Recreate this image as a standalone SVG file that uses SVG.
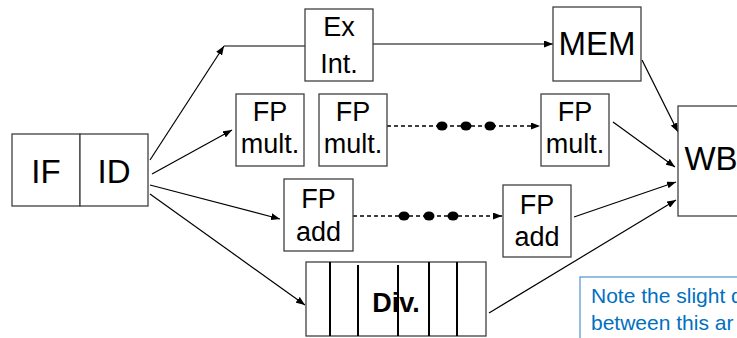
<svg xmlns="http://www.w3.org/2000/svg" width="737" height="338" viewBox="0 0 737 338">
  <style>
    .box { fill: #ffffff; stroke: #404040; stroke-width: 1.3; }
    .lbl { font-family: "Liberation Sans", Arial, sans-serif; fill: #000000; text-anchor: middle; }
    .big { font-size: 33px; }
    .mid { font-size: 27px; }
    .wire { stroke: #000000; stroke-width: 1.2; fill: none; }
    .dash { stroke: #000000; stroke-width: 1.3; fill: none; stroke-dasharray: 4 3; }
    .dot { fill: #000000; }
    .sep { stroke: #000000; stroke-width: 2; }
    .note { font-family: "Liberation Sans", Arial, sans-serif; font-size: 21px; fill: #0070C0; }
  </style>
  <defs>
    <marker id="arrow" markerUnits="userSpaceOnUse" markerWidth="9" markerHeight="7" refX="9" refY="3.5" orient="auto">
      <path d="M0,0 L9,3.5 L0,7 z" fill="#000000"/>
    </marker>
  </defs>

  <rect width="737" height="338" fill="#ffffff"/>

  <g id="connectors">
    <line class="wire" x1="150" y1="160" x2="224" y2="46" marker-end="url(#arrow)"/>
    <line class="wire" x1="305" y1="46" x2="224" y2="46"/>
    <line class="wire" x1="373" y1="44" x2="553" y2="44" marker-end="url(#arrow)"/>
    <line class="wire" x1="152" y1="174" x2="232" y2="130" marker-end="url(#arrow)"/>
    <line class="wire" x1="150" y1="185" x2="280" y2="219" marker-end="url(#arrow)"/>
    <line class="wire" x1="150" y1="194" x2="305" y2="305" marker-end="url(#arrow)"/>
    <line class="wire" x1="642" y1="60" x2="678" y2="132" marker-end="url(#arrow)"/>
    <line class="wire" x1="613" y1="122" x2="675" y2="167" marker-end="url(#arrow)"/>
    <line class="wire" x1="574" y1="217" x2="676" y2="182" marker-end="url(#arrow)"/>
    <line class="wire" x1="489" y1="313" x2="676" y2="200" marker-end="url(#arrow)"/>
    <!-- elided multiply stages -->
    <line class="dash" x1="387" y1="126" x2="540" y2="126" marker-end="url(#arrow)"/>
    <ellipse class="dot" cx="442" cy="126" rx="5.5" ry="4.5"/>
    <ellipse class="dot" cx="466" cy="126" rx="5.5" ry="4.5"/>
    <ellipse class="dot" cx="490" cy="126" rx="5.5" ry="4.5"/>
    <!-- elided add stages -->
    <line class="dash" x1="353" y1="216" x2="502" y2="216" marker-end="url(#arrow)"/>
    <ellipse class="dot" cx="404" cy="216" rx="5.5" ry="4.5"/>
    <ellipse class="dot" cx="429" cy="216" rx="5.5" ry="4.5"/>
    <ellipse class="dot" cx="453" cy="216" rx="5.5" ry="4.5"/>
  </g>

  <g id="if">
    <rect class="box" x="12" y="134" width="68" height="72"/>
    <text class="lbl big" x="46" y="183">IF</text>
  </g>
  <g id="id">
    <rect class="box" x="80" y="134" width="68" height="72"/>
    <text class="lbl big" x="114" y="183">ID</text>
  </g>
  <g id="ex-int">
    <rect class="box" x="305" y="9" width="68" height="72"/>
    <text class="lbl mid" x="339" y="36">Ex</text>
    <text class="lbl mid" x="339" y="73">Int.</text>
  </g>
  <g id="mem">
    <rect class="box" x="553" y="7" width="88" height="74"/>
    <text class="lbl big" x="597" y="55">MEM</text>
  </g>
  <g id="fp-mult-1">
    <rect class="box" x="236" y="94" width="68" height="72"/>
    <text class="lbl mid" x="270" y="121">FP</text>
    <text class="lbl mid" x="270" y="153">mult.</text>
  </g>
  <g id="fp-mult-2">
    <rect class="box" x="319" y="94" width="68" height="72"/>
    <text class="lbl mid" x="353" y="121">FP</text>
    <text class="lbl mid" x="353" y="153">mult.</text>
  </g>
  <g id="fp-mult-7">
    <rect class="box" x="541" y="94" width="68" height="72"/>
    <text class="lbl mid" x="575" y="121">FP</text>
    <text class="lbl mid" x="575" y="153">mult.</text>
  </g>
  <g id="fp-add-1">
    <rect class="box" x="284" y="179" width="69" height="72"/>
    <text class="lbl mid" x="318.5" y="208">FP</text>
    <text class="lbl mid" x="318.5" y="241">add</text>
  </g>
  <g id="fp-add-4">
    <rect class="box" x="503" y="185" width="68" height="72"/>
    <text class="lbl mid" x="537" y="214">FP</text>
    <text class="lbl mid" x="537" y="246">add</text>
  </g>
  <g id="wb">
    <rect class="box" x="678" y="106" width="68" height="110"/>
    <text class="lbl big" x="711" y="170">WB</text>
  </g>
  <g id="div">
    <rect class="box" x="306" y="262" width="180" height="74"/>
    <line class="sep" x1="330" y1="262" x2="330" y2="336"/>
    <line class="sep" x1="358" y1="265" x2="358" y2="336"/>
    <line class="sep" x1="398" y1="265" x2="398" y2="336"/>
    <line class="sep" x1="429" y1="262" x2="429" y2="336"/>
    <line class="sep" x1="457" y1="262" x2="457" y2="336"/>
    <text class="lbl" x="396" y="312" font-size="27" font-weight="bold">Div.</text>
  </g>

  <g id="note">
    <rect x="580" y="277" width="170" height="70" fill="#ffffff" stroke="#5B9BD5" stroke-width="1.3"/>
    <text class="note" x="591" y="303">Note the slight d</text>
    <text class="note" x="591" y="330">between this ar</text>
  </g>
</svg>
